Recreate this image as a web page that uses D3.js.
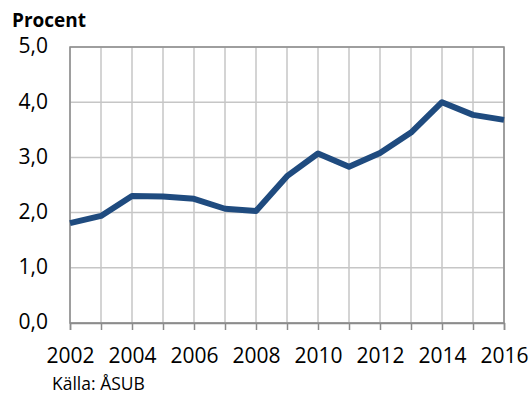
<!DOCTYPE html>
<html>
<head>
<meta charset="utf-8">
<script src="https://cdn.jsdelivr.net/npm/d3@7"></script>
<style>
  body { margin: 0; background: #fff; }
  svg text { font-family: "Open Sans", sans-serif; fill: #000; }
</style>
</head>
<body>
<div id="chart"></div>
<script>
// data
var years = [2002, 2003, 2004, 2005, 2006, 2007, 2008, 2009, 2010, 2011, 2012, 2013, 2014, 2015, 2016];
var values = [1.81, 1.94, 2.30, 2.29, 2.25, 2.07, 2.03, 2.66, 3.07, 2.83, 3.08, 3.45, 4.00, 3.77, 3.68];
var xTickYears = [2002, 2004, 2006, 2008, 2010, 2012, 2014, 2016];
var yTicks = [0, 1, 2, 3, 4, 5];
var title = "Procent";
var source = "Källa: ÅSUB";

var w = 530, h = 407;
var margin = {top: 47, right: 26, bottom: 84, left: 70};

var svg = d3.select("#chart")
  .append("svg")
  .attr("width", w)
  .attr("height", h);

var x = d3.scaleLinear()
  .domain([years[0], years[years.length - 1]])
  .range([margin.left, w - margin.right]);

var y = d3.scaleLinear()
  .domain([0, 5])
  .range([h - margin.bottom, margin.top]);

var fmt = function(d) { return d3.format(".1f")(d).replace(".", ","); };

// vertical grid, one line per year
svg.append("g")
  .selectAll("line")
  .data(years)
  .enter()
  .append("line")
  .attr("x1", function(d) { return x(d); })
  .attr("x2", function(d) { return x(d); })
  .attr("y1", y(0))
  .attr("y2", y(5))
  .attr("stroke", "#c6c6c6")
  .attr("stroke-width", 1.5);

// horizontal grid
svg.append("g")
  .selectAll("line")
  .data(yTicks)
  .enter()
  .append("line")
  .attr("x1", x(years[0]))
  .attr("x2", x(years[years.length - 1]))
  .attr("y1", function(d) { return y(d); })
  .attr("y2", function(d) { return y(d); })
  .attr("stroke", "#c6c6c6")
  .attr("stroke-width", 1.5);

// plot border
svg.append("rect")
  .attr("x", x(years[0]))
  .attr("y", y(5))
  .attr("width", x(years[years.length - 1]) - x(years[0]))
  .attr("height", y(0) - y(5))
  .attr("fill", "none")
  .attr("stroke", "#8c8c8c")
  .attr("stroke-width", 1.5);

// x axis: tick every year, label every other year
var xAxis = d3.axisBottom(x)
  .tickValues(years)
  .tickSize(7)
  .tickFormat(function(d) { return xTickYears.indexOf(d) >= 0 ? d : ""; });

var gx = svg.append("g")
  .attr("transform", "translate(0," + y(0) + ")")
  .call(xAxis);
gx.select(".domain").attr("stroke", "#8c8c8c").attr("stroke-width", 1.5);
gx.selectAll(".tick line").attr("stroke", "#8c8c8c").attr("stroke-width", 1.5);
gx.selectAll(".tick text")
  .attr("dy", "0")
  .attr("y", 40)
  .style("font-size", "21px");

// y axis labels
var yAxis = d3.axisLeft(y)
  .tickValues(yTicks)
  .tickSize(0)
  .tickPadding(22)
  .tickFormat(fmt);

var gy = svg.append("g")
  .attr("transform", "translate(" + x(years[0]) + ",0)")
  .call(yAxis);
gy.select(".domain").remove();
gy.selectAll(".tick text")
  .attr("dy", "0.28em")
  .style("font-size", "21px");

// the line
var line = d3.line()
  .x(function(d, i) { return x(years[i]); })
  .y(function(d) { return y(d); });

svg.append("path")
  .datum(values)
  .attr("d", line)
  .attr("fill", "none")
  .attr("stroke", "#1f4b7f")
  .attr("stroke-width", 6)
  .attr("stroke-linejoin", "round");

// title
svg.append("text")
  .attr("x", 12)
  .attr("y", 27)
  .style("font-size", "19px")
  .style("font-weight", "bold")
  .text(title);

// source note
svg.append("text")
  .attr("x", 52)
  .attr("y", 390)
  .style("font-size", "17.5px")
  .text(source);
</script>
</body>
</html>
